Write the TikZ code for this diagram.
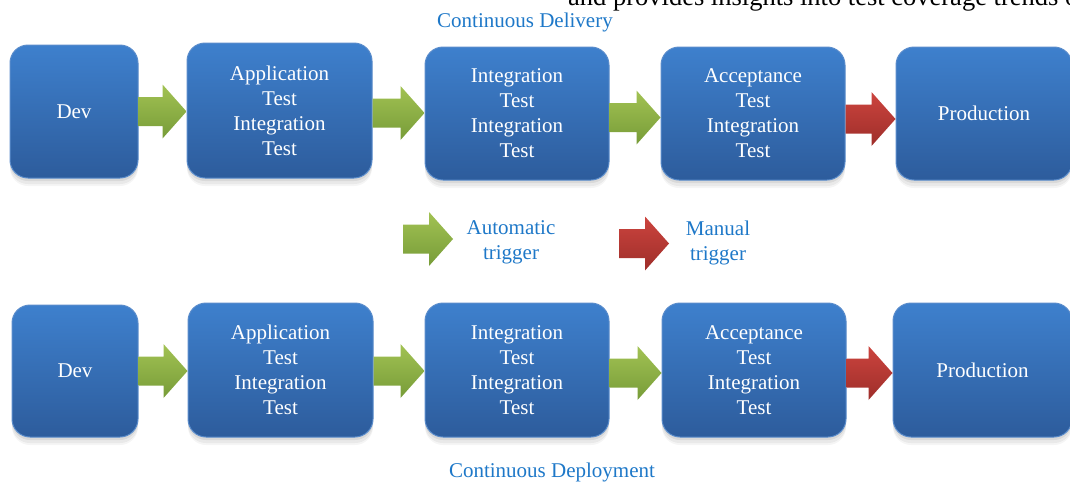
\documentclass[tikz,border=0pt]{standalone}
\usepackage{fontspec}
\setmainfont{Liberation Serif}
\usetikzlibrary{calc,shadows}

\definecolor{boxtop}{HTML}{3E80CD}
\definecolor{boxbot}{HTML}{2D5C9C}
\definecolor{boxedge}{HTML}{5A8CCB}
\definecolor{gtop}{HTML}{A2C253}
\definecolor{gbot}{HTML}{779C38}
\definecolor{rtop}{HTML}{CC443E}
\definecolor{rbot}{HTML}{9E2E2A}
\definecolor{labelblue}{HTML}{1E78C8}

\tikzset{
  softshadow/.style={
    general shadow={fill=black, opacity=0.04, shadow yshift=-8pt, shadow scale=1.00},
    general shadow={fill=black, opacity=0.05, shadow yshift=-6pt},
    general shadow={fill=black, opacity=0.07, shadow yshift=-3pt}},
  stage/.style={softshadow, rounded corners=18pt, draw=boxedge, line width=1pt,
    top color=boxtop, bottom color=boxbot, text=white, align=center,
    inner sep=0pt, font=\fontsize{21}{25}\selectfont},
  blockarrow/.style={to path={
    let \p1=(\tikztostart), \p2=(\tikztotarget) in
    (\x1,\y1+14.5) -- (\x2-24pt,\y1+14.5) -- (\x2-24pt,\y1+27pt) -- (\x2,\y1)
    -- (\x2-24pt,\y1-27pt) -- (\x2-24pt,\y1-14.5) -- (\x1,\y1-14.5) -- cycle}},
  autoarrow/.style={blockarrow, top color=gtop, bottom color=gbot, draw=none},
  manualarrow/.style={blockarrow, top color=rtop, bottom color=rbot, draw=none},
  caption/.style={text=labelblue, font=\fontsize{21}{25}\selectfont, align=center},
}

\begin{document}
\begin{tikzpicture}[x=1pt,y=-1pt]
\useasboundingbox (0,0) rectangle (1070,482);
\clip (0,0) rectangle (1070,482);

% running text of the page above the figure
\node[anchor=base west, inner sep=0pt, font=\fontsize{26.5}{30}\selectfont] (pagetext) at (568,5)
  {and provides insights into test coverage trends o};

% ---- Continuous Delivery ----
\node[caption, anchor=base] (cdel) at (525,27) {Continuous Delivery};

\node[stage, minimum width=128pt, minimum height=133pt] (d1) at (74,111.5) {Dev};
\node[stage, minimum width=185pt, minimum height=135pt] (a1) at (279.5,110.5) {Application\\Test\\Integration\\Test};
\node[stage, minimum width=184pt, minimum height=133pt] (i1) at (517,113.5) {Integration\\Test\\Integration\\Test};
\node[stage, minimum width=184pt, minimum height=133pt] (c1) at (753,113.5) {Acceptance\\Test\\Integration\\Test};
\node[stage, minimum width=176pt, minimum height=133pt] (p1) at (984,113.5) {Production};

\path[autoarrow] (d1.east) to (a1.west);
\path[autoarrow] ([yshift=-2.5pt]a1.east) to (i1.west);
\path[autoarrow] ([yshift=-4pt]i1.east) to (c1.west);
\path[manualarrow] ([yshift=-5.5pt]c1.east) to (p1.west);

% ---- legend ----
\coordinate (ga0) at (403,239);
\coordinate (ga1) at (453,239);
\coordinate (ra0) at (619,243.5);
\coordinate (ra1) at (669,243.5);
\path[autoarrow] (ga0) to (ga1);
\path[manualarrow] (ra0) to (ra1);
\node[caption] (autolbl) at (511,242.5) {Automatic\\trigger};
\node[caption] (manlbl) at (718,242.5) {Manual\\trigger};

% ---- Continuous Deployment ----
\node[stage, minimum width=126pt, minimum height=132pt] (d2) at (75,371) {Dev};
\node[stage, minimum width=185pt, minimum height=134pt] (a2) at (280.5,370) {Application\\Test\\Integration\\Test};
\node[stage, minimum width=184pt, minimum height=134pt] (i2) at (517,370) {Integration\\Test\\Integration\\Test};
\node[stage, minimum width=184pt, minimum height=134pt] (c2) at (754,370) {Acceptance\\Test\\Integration\\Test};
\node[stage, minimum width=179pt, minimum height=134pt] (p2) at (982.5,370) {Production};

\path[autoarrow] (d2.east) to (a2.west);
\path[autoarrow] ([yshift=-1pt]a2.east) to (i2.west);
\path[autoarrow] ([yshift=-3pt]i2.east) to (c2.west);
\path[manualarrow] ([yshift=-3pt]c2.east) to (p2.west);

\node[caption, anchor=base] (cdep) at (552,477) {Continuous Deployment};
\end{tikzpicture}
\end{document}
